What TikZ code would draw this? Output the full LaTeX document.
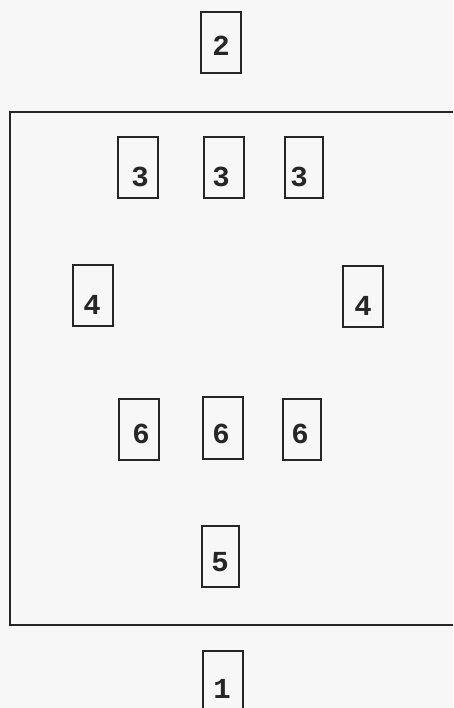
\documentclass[tikz,border=0pt]{standalone}
\usepackage{fontspec}
\setmonofont{Liberation Mono}
\begin{document}
\begin{tikzpicture}[x=1pt,y=-1pt,
  card/.style={draw=black!85, line width=2pt, minimum width=40pt, minimum height=61pt, inner sep=0pt},
  num/.style={font=\ttfamily\bfseries\fontsize{29}{29}\selectfont, text=black!85, inner sep=0pt}]
\useasboundingbox[fill=black!3] (0,0) rectangle (453,708);
% enclosure
\draw[line width=2pt, draw=black!85] (453,112) -- (10,112) -- (10,625) -- (453,625);
% cards
\node[card] (c2) at (220.5,42.5) {};
\node[num] (n2) at (221,46) {2};
\node[card] (c3a) at (138,167.5) {};
\node[num] (n3a) at (140,177) {3};
\node[card] (c3b) at (224,167.5) {};
\node[num] (n3b) at (221,177) {3};
\node[card, minimum width=38pt] (c3c) at (303.5,167.5) {};
\node[num] (n3c) at (299,177) {3};
\node[card] (c4a) at (92.5,295) {};
\node[num] (n4a) at (92,305) {4};
\node[card] (c4b) at (362.5,296) {};
\node[num] (n4b) at (363,306) {4};
\node[card] (c6a) at (139,429) {};
\node[num] (n6a) at (141,434) {6};
\node[card, minimum height=62pt] (c6b) at (222.5,428) {};
\node[num] (n6b) at (221,434) {6};
\node[card, minimum width=38pt] (c6c) at (302,429.5) {};
\node[num] (n6c) at (300,434) {6};
\node[card, minimum width=37pt] (c5) at (220.5,556) {};
\node[num] (n5) at (220,562) {5};
\node[card, minimum height=80pt] (c1) at (223,691) {};
\node[num] (n1) at (222,689) {1};
\end{tikzpicture}
\end{document}
